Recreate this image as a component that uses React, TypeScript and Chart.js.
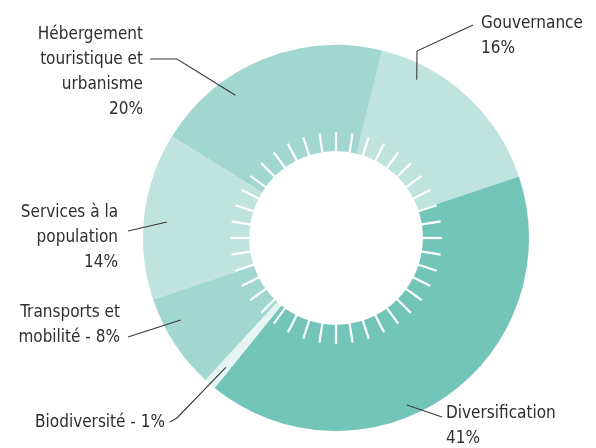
import React, { useEffect, useRef } from "react";
import { Chart, registerables } from "chart.js";

Chart.register(...registerables);

// ---- data ----
const categories = [
  "Gouvernance",
  "Diversification",
  "Biodiversité",
  "Transports et mobilité",
  "Services à la population",
  "Hébergement touristique et urbanisme",
];
const shares = [16, 41, 1, 8, 14, 20];
const sliceColors = ["#c0e3de", "#74c5b9", "#e6f4f2", "#a1d7cf", "#c0e3de", "#a1d7cf"];
// label text lines, "{v}" is replaced by the share value
const labelText = [
  ["Gouvernance", "{v}%"],
  ["Diversification", "{v}%"],
  ["Biodiversité - {v}%"],
  ["Transports et", "mobilité - {v}%"],
  ["Services à la", "population", "{v}%"],
  ["Hébergement", "touristique et", "urbanisme", "{v}%"],
];

// ---- label layout (positions / styles) ----
type LabelLayout = {
  align: CanvasTextAlign;
  x: number;
  baseline: number;
  end: [number, number];
  elbow?: [number, number];
  t: number; // fraction along the arc for the leader anchor
  r: number; // fraction of outer radius for leader anchor
};
const labelLayout: LabelLayout[] = [
  { align: "left", x: 481, baseline: 28, end: [473, 25], elbow: [417, 51], t: 0.23, r: 0.92 },
  { align: "left", x: 446, baseline: 418, end: [442, 417], t: 0.58, r: 0.94 },
  { align: "right", x: 165, baseline: 427, end: [170, 422], elbow: [177, 418], t: 0.4, r: 0.88 },
  { align: "right", x: 120, baseline: 317, end: [128, 337], t: 0.68, r: 0.91 },
  { align: "right", x: 118, baseline: 217, end: [128, 231], t: 0.476, r: 0.88 },
  { align: "right", x: 143, baseline: 39, end: [150, 59], elbow: [177, 59], t: 0.32, r: 0.905 },
];
const LINE_HEIGHT = 25;
const FONT = "17px 'DejaVu Sans Condensed', 'Liberation Sans Narrow', 'DejaVu Sans', sans-serif";
const TEXT_COLOR = "#2e2e2e";
const TICK_COUNT = 40;

const decorPlugin = {
  id: "decor",
  afterDatasetsDraw(chart: any) {
    const meta = chart.getDatasetMeta(0);
    const ctx: CanvasRenderingContext2D = chart.ctx;
    if (!meta || !meta.data.length) return;
    const first = meta.data[0].getProps(["x", "y", "innerRadius", "outerRadius"], true);
    const cx = first.x;
    const cy = first.y;
    const inner = first.innerRadius;

    // white tick ring
    ctx.save();
    ctx.strokeStyle = "#ffffff";
    ctx.lineWidth = 2.2;
    ctx.lineCap = "butt";
    for (let i = 0; i < TICK_COUNT; i++) {
      const a = -Math.PI / 2 + (i * 2 * Math.PI) / TICK_COUNT;
      ctx.beginPath();
      ctx.moveTo(cx + Math.cos(a) * (inner - 1), cy + Math.sin(a) * (inner - 1));
      ctx.lineTo(cx + Math.cos(a) * (inner + 19), cy + Math.sin(a) * (inner + 19));
      ctx.stroke();
    }
    ctx.restore();

    // labels + leader lines
    ctx.save();
    ctx.font = FONT;
    ctx.fillStyle = TEXT_COLOR;
    ctx.textBaseline = "alphabetic";
    ctx.strokeStyle = "#3a3a3a";
    ctx.lineWidth = 1.1;
    meta.data.forEach((arc: any, i: number) => {
      const lay = labelLayout[i];
      const p = arc.getProps(["x", "y", "startAngle", "endAngle", "outerRadius"], true);
      const a = p.startAngle + lay.t * (p.endAngle - p.startAngle);
      const ax = p.x + Math.cos(a) * p.outerRadius * lay.r;
      const ay = p.y + Math.sin(a) * p.outerRadius * lay.r;
      ctx.beginPath();
      ctx.moveTo(lay.end[0], lay.end[1]);
      if (lay.elbow) ctx.lineTo(lay.elbow[0], lay.elbow[1]);
      ctx.lineTo(ax, ay);
      ctx.stroke();

      ctx.textAlign = lay.align;
      labelText[i].forEach((line, k) => {
        ctx.fillText(line.replace("{v}", String(shares[i])), lay.x, lay.baseline + k * LINE_HEIGHT);
      });
    });
    ctx.restore();
  },
};

export default function App() {
  const ref = useRef<HTMLCanvasElement | null>(null);
  useEffect(() => {
    if (!ref.current) return;
    const chart = new Chart(ref.current, {
      type: "doughnut",
      data: {
        labels: categories,
        datasets: [
          {
            data: shares,
            backgroundColor: sliceColors,
            borderWidth: 0,
            hoverOffset: 0,
          },
        ],
      },
      options: {
        responsive: false,
        animation: false,
        devicePixelRatio: 1,
        rotation: 13.8,
        cutout: "45%",
        layout: { padding: { left: 143, top: 45, right: 67, bottom: 17 } },
        plugins: {
          legend: { display: false },
          tooltip: { enabled: false },
        },
        events: [],
      },
      plugins: [decorPlugin],
    });
    return () => chart.destroy();
  }, []);
  return (
    <div style={{ position: "fixed", left: 0, top: 0, width: 596, height: 448, background: "#ffffff" }}>
      <canvas ref={ref} width={596} height={448} />
    </div>
  );
}
